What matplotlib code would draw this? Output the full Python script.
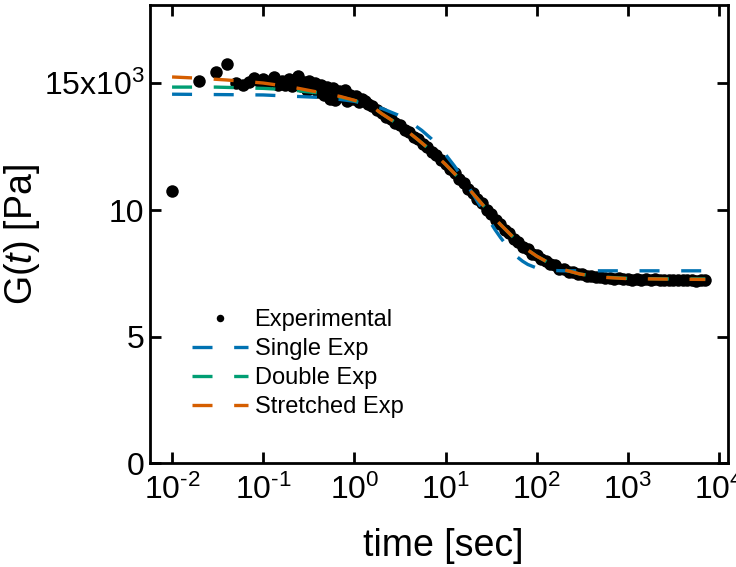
import matplotlib
matplotlib.use('Agg')
import matplotlib.pyplot as plt
from matplotlib.ticker import NullLocator

plt.rcParams['font.family'] = ['Liberation Sans', 'DejaVu Sans']
plt.rcParams['mathtext.fontset'] = 'custom'
plt.rcParams['mathtext.rm'] = 'Liberation Sans'
plt.rcParams['mathtext.it'] = 'Liberation Sans:italic'

# experimental relaxation data (time in s, G in Pa)
t_exp = [0.010, 0.020, 0.030, 0.040, 0.050, 0.060, 0.070, 0.080, 0.090, 0.100,
         0.110, 0.120, 0.130, 0.145, 0.160, 0.175, 0.190, 0.205, 0.220, 0.240,
         0.260, 0.280, 0.300, 0.320, 0.345, 0.370, 0.400, 0.430, 0.460, 0.500,
         0.540, 0.580, 0.620, 0.670, 0.720, 0.780, 0.840, 0.900, 0.970, 1.05,
         1.13, 1.22, 1.32,
         1.41, 1.58, 1.78, 2.00, 2.24, 2.51, 2.82, 3.16, 3.55, 3.98,
         4.47, 5.01, 5.62, 6.31, 7.08, 7.94, 8.91, 10.0, 11.2, 12.6,
         14.1, 15.8, 17.8, 20.0, 22.4, 25.1, 28.2, 31.6, 35.5, 39.8,
         44.7, 50.1, 56.2, 63.1, 70.8, 79.4, 89.1, 100, 112, 126,
         141, 158, 178, 200, 224, 251, 282, 316, 355, 398,
         447, 501, 562, 631, 708, 794, 891, 1000, 1120, 1260,
         1410, 1580, 1780, 2000, 2240, 2510, 2820, 3160, 3550, 3980,
         4470, 5010, 5620, 6310, 7080]
g_exp = [10750, 15100, 15450, 15750, 15000, 14950, 15050, 15200, 15100, 15150,
         15000, 15100, 15250, 14950, 15100, 14950, 15150, 14900, 15050, 15300,
         14900, 15050, 14750, 15100, 14800, 15000, 14650, 14950, 14550, 14850,
         14400, 14800, 14350, 14700, 14500, 14750, 14300, 14550, 14400, 14500,
         14250, 14400, 14300,
         14200, 14100, 13930, 13830, 13680, 13600, 13420, 13350, 13150, 13080,
         12880, 12800, 12600, 12500, 12290, 12180, 11960, 11830, 11600, 11460,
         11220, 11080, 10830, 10680, 10420, 10270, 10010, 9860, 9610, 9460,
         9220, 9090, 8870, 8750, 8550, 8460, 8280, 8210, 8050, 8000,
         7860, 7810, 7690, 7660, 7560, 7550, 7470, 7470, 7400, 7410,
         7350, 7370, 7310, 7330, 7290, 7300, 7270, 7290, 7250, 7270,
         7240, 7270, 7230, 7260, 7230, 7250, 7220, 7250, 7220, 7240,
         7220, 7240, 7210, 7230, 7240]

# single exponential fit
t_single = [0.01, 0.1, 0.5, 1, 2, 3, 4, 5.5, 7, 8.5, 10, 12.5, 15, 17.5, 20,
            25, 30, 35, 40, 50, 60, 70, 80, 100, 125, 150, 200, 500, 1000, 7080]
g_single = [14570, 14540, 14430, 14290, 14010, 13750, 13500, 13140, 12810, 12490,
            12190, 11740, 11330, 10960, 10630, 10060, 9600, 9220, 8920, 8470,
            8170, 7980, 7850, 7710, 7640, 7613, 7600, 7600, 7600, 7600]

# double exponential fit
t_double = [0.01, 0.03, 0.1, 0.2, 0.4, 0.7, 1, 1.5, 2, 3, 4, 5, 7, 10, 15, 20,
            30, 40, 60, 80, 100, 150, 200, 300, 500, 1000, 3000, 7080]
g_double = [14850, 14850, 14800, 14740, 14620, 14460, 14320, 14130, 13800, 13390,
            13050, 12770, 12330, 11800, 11150, 10650, 9920, 9430, 8800, 8420,
            8180, 7830, 7640, 7470, 7360, 7300, 7280, 7280]

# stretched exponential fit
t_stretch = [0.01, 0.02, 0.04, 0.07, 0.1, 0.2, 0.4, 0.7, 1, 1.5, 2, 3, 4, 5, 7,
             10, 15, 20, 30, 40, 60, 80, 100, 150, 200, 300, 500, 1000, 3000, 7080]
g_stretch = [15250, 15200, 15130, 15060, 15010, 14860, 14650, 14480, 14330, 14130,
             13800, 13390, 13050, 12770, 12330, 11800, 11150, 10650, 9920, 9430,
             8800, 8420, 8180, 7830, 7640, 7470, 7350, 7290, 7270, 7260]

xticks = [1e-2, 1e-1, 1e0, 1e1, 1e2, 1e3, 1e4]
xticklabels = [r'$\mathregular{10^{\text{-}2}}$', r'$\mathregular{10^{\text{-}1}}$',
               r'$\mathregular{10^{0}}$', r'$\mathregular{10^{1}}$', r'$\mathregular{10^{2}}$',
               r'$\mathregular{10^{3}}$', r'$\mathregular{10^{4}}$']
yticks = [0, 5000, 10000, 15000]
yticklabels = ['0', '5', '10', r'15x10$\mathregular{^3}$']

fig = plt.figure(figsize=(7.36, 5.67), dpi=100)
ax = fig.add_axes([150/736, 1 - 463.4/567, (728 - 150)/736, (463.4 - 5)/567])

ax.plot(t_exp, g_exp, 'o', color='black', ms=9, mec='none', label='Experimental', zorder=2)
ax.plot(t_single, g_single, color='#0072B2', lw=2.4, dashes=[6, 6.5], label='Single Exp', zorder=3)
ax.plot(t_double, g_double, color='#009E73', lw=2.4, dashes=[6, 6.5], label='Double Exp', zorder=3)
ax.plot(t_stretch, g_stretch, color='#D55E00', lw=2.4, dashes=[6, 6.5], label='Stretched Exp', zorder=4)

ax.set_xscale('log')
ax.set_xlim(10**-2.242, 10**4.099)
ax.set_ylim(0, 18090)
ax.set_xticks(xticks)
ax.set_xticklabels(xticklabels)
ax.xaxis.set_minor_locator(NullLocator())
ax.set_yticks(yticks)
ax.set_yticklabels(yticklabels)

ax.tick_params(direction='in', length=8, width=2, top=True, right=True, labelsize=23)
ax.tick_params(axis='y', pad=4)
ax.tick_params(axis='x', pad=8)
for s in ax.spines.values():
    s.set_linewidth(2)

ax.set_xlabel('time [sec]', fontsize=27)
ax.set_ylabel(r'G($\mathit{t}$) [Pa]', fontsize=27)
ax.xaxis.set_label_coords(0.507, -0.142)
ax.yaxis.set_label_coords(-0.187, 0.50)

ax.legend(loc='upper left', bbox_to_anchor=(0.0727, 0.336), frameon=False,
          fontsize=17, borderpad=0, borderaxespad=0, handlelength=2.35,
          handletextpad=0.3, labelspacing=0.29, markerscale=0.6)

fig.savefig('out.png', dpi=100)
